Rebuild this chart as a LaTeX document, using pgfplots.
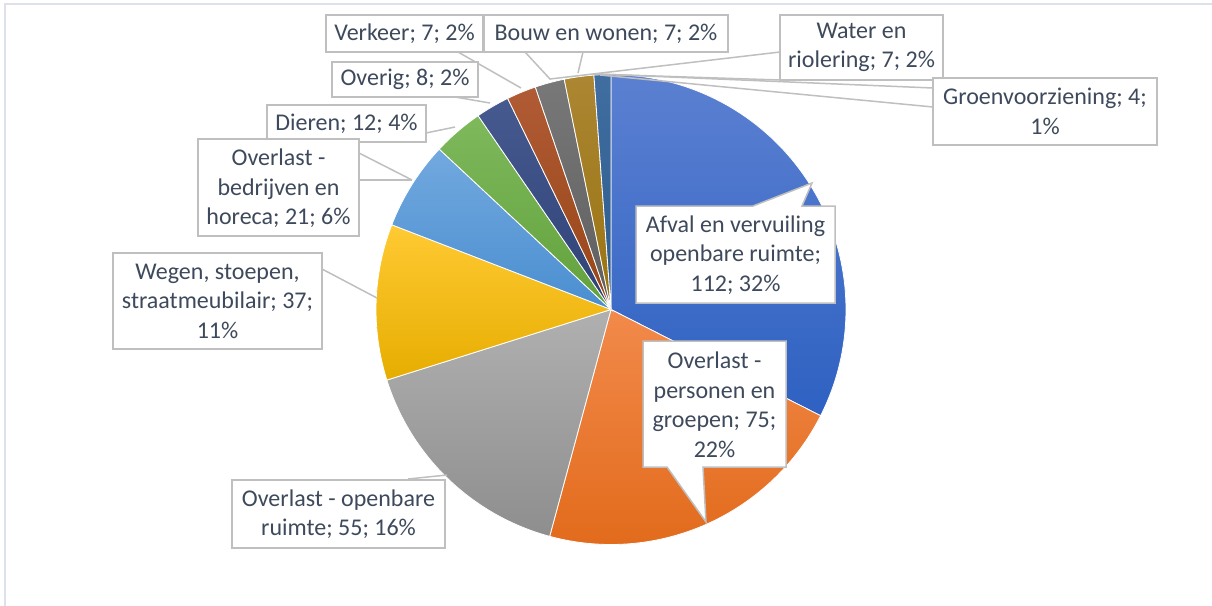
\documentclass[border=0pt]{standalone}
\usepackage{pgfplots}
\pgfplotsset{compat=1.18}
\usepackage{pgfplotstable}
\usepackage{fontspec}
\setmainfont{Carlito}

\definecolor{top0}{HTML}{5B80D1}\definecolor{bot0}{HTML}{2E61C2}
\definecolor{top1}{HTML}{F28A4B}\definecolor{bot1}{HTML}{E26B1C}
\definecolor{top2}{HTML}{B0B0B0}\definecolor{bot2}{HTML}{8E8E8E}
\definecolor{top3}{HTML}{FFCA33}\definecolor{bot3}{HTML}{E6AD00}
\definecolor{top4}{HTML}{72A9DF}\definecolor{bot4}{HTML}{4A8ED0}
\definecolor{top5}{HTML}{7EB95C}\definecolor{bot5}{HTML}{62A13C}
\definecolor{top6}{HTML}{475A90}\definecolor{bot6}{HTML}{2E4276}
\definecolor{top7}{HTML}{B05B35}\definecolor{bot7}{HTML}{984516}
\definecolor{top8}{HTML}{787878}\definecolor{bot8}{HTML}{5E5E5E}
\definecolor{top9}{HTML}{AC8632}\definecolor{bot9}{HTML}{997310}
\definecolor{top10}{HTML}{416EA0}\definecolor{bot10}{HTML}{2A5A8C}
\definecolor{labc}{HTML}{3E4A5C}
\definecolor{boxc}{HTML}{BFBFBF}
\definecolor{bordc}{HTML}{DDE2EA}

\pgfplotstableread{
idx value
0 112
1 75
2 55
3 37
4 21
5 12
6 8
7 7
8 7
9 7
10 4
}\piedata

\tikzset{lab/.style={align=center, text=labc, font=\fontsize{12}{14.75}\selectfont, inner sep=0pt},
  box/.style={draw=boxc, line width=0.75pt, fill=white},
  lead/.style={draw=boxc, line width=0.75pt}}

\begin{document}
\begin{tikzpicture}
\begin{axis}[name=ax, scale only axis, width=606pt, height=303pt,
  xmin=0, xmax=1212, ymin=0, ymax=606, y dir=reverse,
  hide axis, clip=false]
% total
\def\total{0}
\pgfplotsforeachungrouped \i in {0,...,10}{%
  \pgfplotstablegetelem{\i}{value}\of\piedata
  \pgfmathsetmacro\total{\total+\pgfplotsretval}}
% slices, clockwise from 12 o'clock
\def\cum{0}
\pgfplotsforeachungrouped \i in {0,...,10}{%
  \pgfplotstablegetelem{\i}{value}\of\piedata
  \pgfmathsetmacro\angA{90-360*(\cum/\total)}
  \pgfmathsetmacro\cum{\cum+\pgfplotsretval}
  \pgfmathsetmacro\angB{90-360*(\cum/\total)}
  \edef\doplot{\noexpand\addplot[draw=white, line width=0.4pt, top color=top\i, bottom color=bot\i, domain=\angB:\angA, samples=90]
    ({611+235*cos(x)},{309.5-235*sin(x)}) -- (axis cs:611,309.5) -- cycle;}
  \doplot
}
% chart border
\draw[bordc, line width=0.9pt] (axis cs:5,606) -- (axis cs:5,4) -- (axis cs:1212,4);
% leader lines
\draw[lead] (axis cs:458,52) -- (axis cs:521,88);
\draw[lead] (axis cs:525,52) -- (axis cs:550,79) -- (axis cs:780,52);
\draw[lead] (axis cs:583,52) -- (axis cs:578,73);
\draw[lead] (axis cs:780,80) -- (axis cs:593,74);
\draw[lead] (axis cs:933,88) -- (axis cs:598,74);
\draw[lead] (axis cs:933,107) -- (axis cs:600,75);
\draw[lead] (axis cs:455,97) -- (axis cs:490,103);
\draw[lead] (axis cs:426,133) -- (axis cs:455,127);
\draw[lead] (axis cs:359,153) -- (axis cs:412,180);
\draw[lead] (axis cs:359,180) -- (axis cs:412,180);
\draw[lead] (axis cs:322,269) -- (axis cs:377,298);
\draw[lead] (axis cs:408,479) -- (axis cs:447,475);
% boxes
\draw[box] (axis cs:326,15) rectangle (axis cs:483,52);
\node[lab] at (axis cs:404.5,33.5) {Verkeer; 7; 2\%};
\draw[box] (axis cs:484,15) rectangle (axis cs:728,52);
\node[lab] at (axis cs:606,33.5) {Bouw en wonen; 7; 2\%};
\draw[box] (axis cs:780,15) rectangle (axis cs:943,80);
\node[lab] at (axis cs:861.5,47.5) {Water en\\riolering; 7; 2\%};
\draw[box] (axis cs:933,78) rectangle (axis cs:1157,145);
\node[lab] at (axis cs:1045,111.5) {Groenvoorziening; 4;\\1\%};
\draw[box] (axis cs:332,62) rectangle (axis cs:478,97);
\node[lab] at (axis cs:405,79.5) {Overig; 8; 2\%};
\draw[box] (axis cs:267,105) rectangle (axis cs:426,142);
\node[lab] at (axis cs:346.5,123.5) {Dieren; 12; 4\%};
\draw[box] (axis cs:198,139) rectangle (axis cs:359,236);
\node[lab] at (axis cs:278.5,188.5) {Overlast -\\bedrijven en\\horeca; 21; 6\%};
\draw[box] (axis cs:113,253) rectangle (axis cs:322,349);
\node[lab] at (axis cs:217.5,301) {Wegen, stoepen,\\straatmeubilair; 37;\\11\%};
\draw[box] (axis cs:232,480) rectangle (axis cs:445,548);
\node[lab] at (axis cs:338.5,514) {Overlast - openbare\\ruimte; 55; 16\%};
% callouts
\draw[box] (axis cs:636,206) -- (axis cs:753,206) -- (axis cs:812,183) -- (axis cs:802,206) -- (axis cs:835,206)
  -- (axis cs:835,303) -- (axis cs:636,303) -- cycle;
\node[lab] at (axis cs:735.5,255) {Afval en vervuiling\\openbare ruimte;\\112; 32\%};
\draw[box] (axis cs:643,341) -- (axis cs:786,341) -- (axis cs:786,467) -- (axis cs:703,467) -- (axis cs:706,522)
  -- (axis cs:667,467) -- (axis cs:643,467) -- cycle;
\node[lab] at (axis cs:714.5,405) {Overlast -\\personen en\\groepen; 75;\\22\%};
\end{axis}
\pgfresetboundingbox
\path[use as bounding box] (ax.south west) rectangle (ax.north east);
\end{tikzpicture}
\end{document}
